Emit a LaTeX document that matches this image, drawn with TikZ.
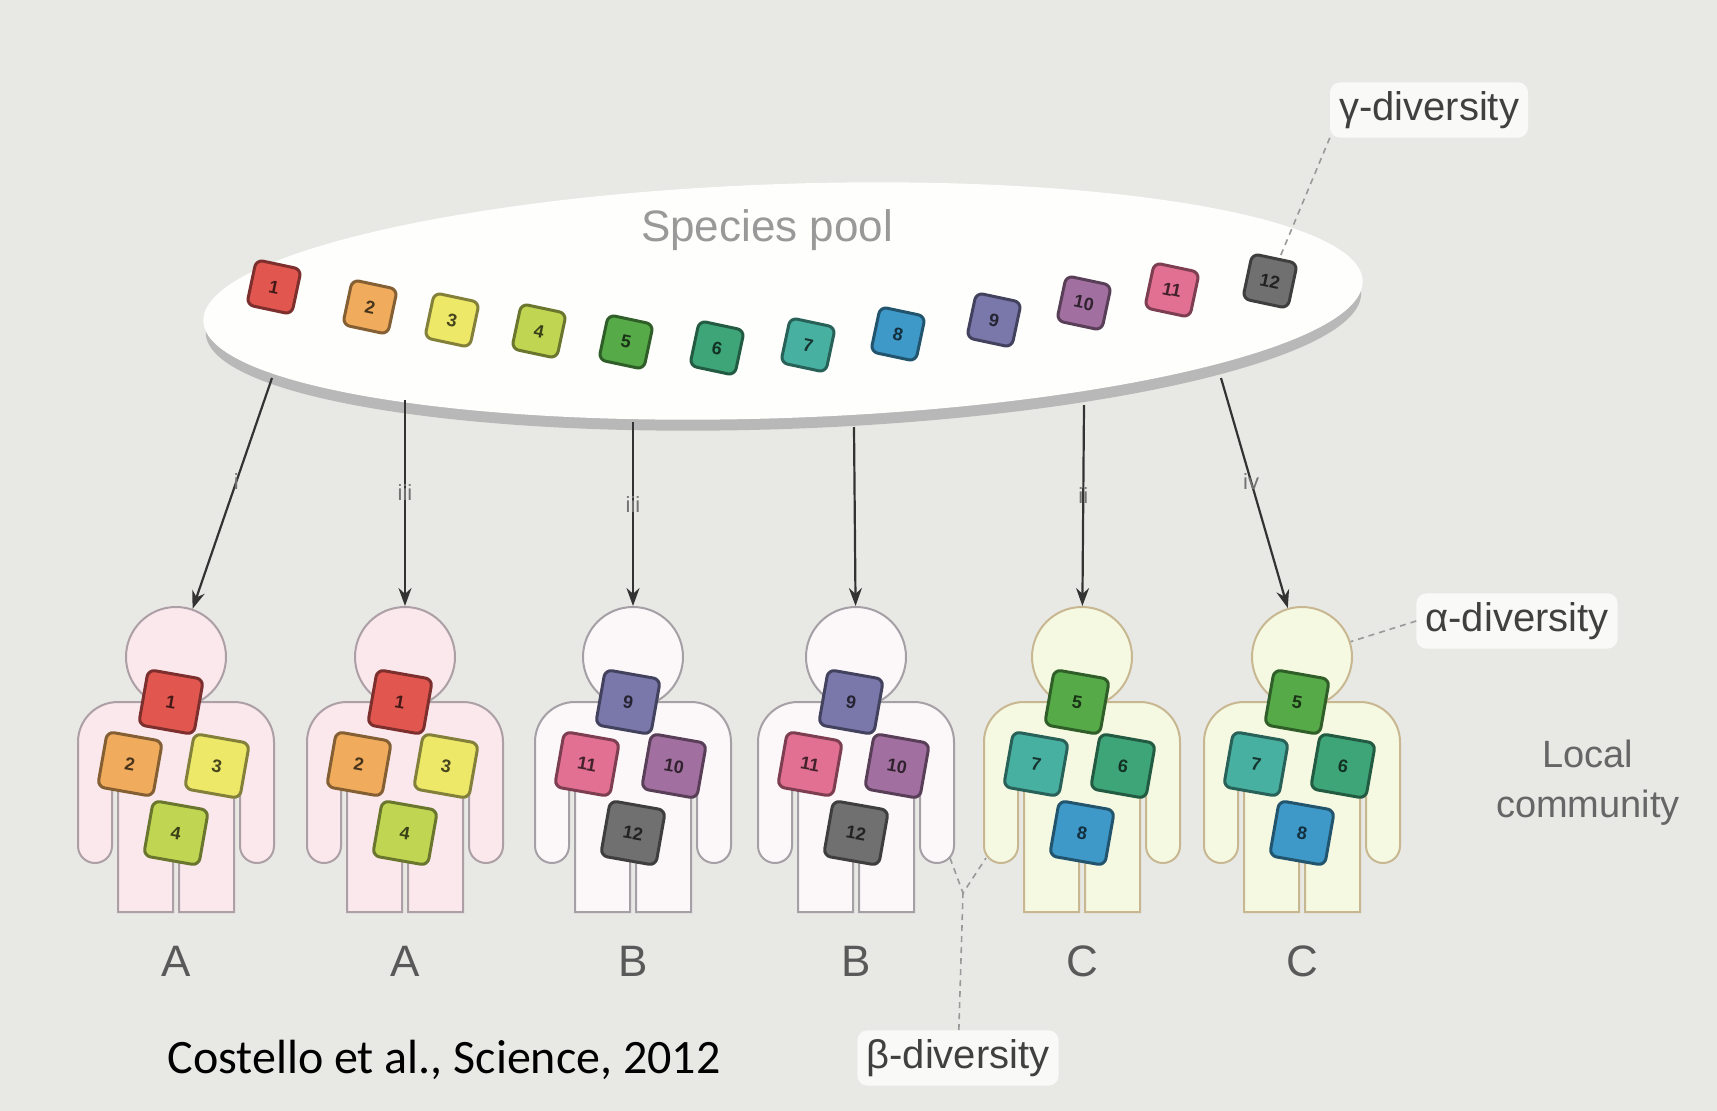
\documentclass[tikz,border=0pt]{standalone}
\usepackage{fontspec}
\setmainfont{Liberation Sans}
\newfontfamily\citefont{Carlito}
\usetikzlibrary{arrows.meta, shapes.geometric}

% Species colours

\definecolor{sp1}{RGB}{226,86,80}
\definecolor{sp2}{RGB}{240,172,92}
\definecolor{sp3}{RGB}{238,232,104}
\definecolor{sp4}{RGB}{192,214,82}
\definecolor{sp5}{RGB}{86,170,72}
\definecolor{sp6}{RGB}{62,165,120}
\definecolor{sp7}{RGB}{72,176,160}
\definecolor{sp8}{RGB}{62,152,200}
\definecolor{sp9}{RGB}{122,120,170}
\definecolor{sp10}{RGB}{162,112,160}
\definecolor{sp11}{RGB}{226,112,146}
\definecolor{sp12}{RGB}{112,112,112}

% Paper and hosts

\definecolor{paper}{RGB}{232,232,229}
\definecolor{hostA}{RGB}{250,232,236}
\definecolor{hostB}{RGB}{252,247,249}
\definecolor{hostC}{RGB}{246,249,226}
\definecolor{edgeA}{RGB}{172,160,166}
\definecolor{edgeB}{RGB}{165,160,165}
\definecolor{edgeC}{RGB}{200,184,146}

\tikzset{
	species/.style = {draw = #1!55!black, fill = #1, line width = 3, rounded corners = 7,
		minimum size = 46, inner sep = 0, text = #1!30!black,
		font = \fontsize{18}{18}\selectfont\bfseries},
	host/.style = {line width = 2},
	head/.style = {circle, line width = 2, minimum size = 100, inner sep = 0},
	seed/.style = {line width = 2.2, draw = black!80, -{Stealth[length = 18, width = 13]}},
	numeral/.style = {font = \fontsize{22}{22}\selectfont, text = black!55, inner sep = 2},
	leader/.style = {line width = 1.6, draw = black!40, dashed, dash pattern = on 6 off 5},
	tag/.style = {fill = white!75!paper, rounded corners = 10, inner sep = 9, text = black!75,
		font = \fontsize{40}{40}\selectfont},
	group/.style = {text = black!65, font = \fontsize{44}{44}\selectfont}
}

\begin{document}
\begin{tikzpicture}[x = 1pt, y = 1pt]

	% Paper

	\fill [paper] (0, 0) rectangle (1717, -1111);
	\useasboundingbox (0, 0) rectangle (1717, -1111);

	% Species pool

	\fill [black!28, rotate around = {2 : (783, -301)}] (783, -313) ellipse (578 and 116);
	\node [ellipse, fill = white!94!paper, minimum width = 1160, minimum height = 234, rotate = 2] (pool) at (783, -301) {};
	\node [text = black!40, font = \fontsize{44}{44}\selectfont] (poolname) at (767, -230) {Species pool};

	\foreach \n/\x/\y in {1/274/287, 2/370/307, 3/452/320, 4/539/331, 5/626/342, 6/717/348,
		7/808/345, 8/898/334, 9/994/320, 10/1084/303, 11/1172/290, 12/1270/281}
		\node [species = sp\n, rotate = -12] (pool\n) at (\x, -\y) {\n};

	% Hosts

	\foreach \i/\cx/\tint/\edge/\a/\b/\c/\d/\grp in {
		1/176/hostA/edgeA/1/2/3/4/A, 2/405/hostA/edgeA/1/2/3/4/A,
		3/633/hostB/edgeB/9/11/10/12/B, 4/856/hostB/edgeB/9/11/10/12/B,
		5/1082/hostC/edgeC/5/7/6/8/C, 6/1302/hostC/edgeC/5/7/6/8/C}
	{
		% Body

		\draw [host, fill = \tint, draw = \edge] ({\cx-98}, -742) arc [start angle = 180, end angle = 90, radius = 40]
			-- ({\cx+58}, -702) arc [start angle = 90, end angle = 0, radius = 40]
			-- ({\cx+98}, -846) arc [start angle = 0, end angle = -180, radius = 17]
			-- ({\cx+64}, -765) -- ({\cx+58}, -765) -- ({\cx+58}, -912) -- ({\cx+3}, -912)
			-- ({\cx+3}, -838) -- ({\cx-3}, -838) -- ({\cx-3}, -912) -- ({\cx-58}, -912)
			-- ({\cx-58}, -765) -- ({\cx-64}, -765) -- ({\cx-64}, -846)
			arc [start angle = 0, end angle = -180, radius = 17] -- cycle;

		% Head

		\node [head, fill = \tint, draw = \edge] (head\i) at (\cx, -657) {};

		% Community

		\node [species = sp\a, rotate = -10, minimum size = 56] (h\i-top) at ({\cx-5}, -702) {\a};
		\node [species = sp\b, rotate = -10, minimum size = 56] (h\i-left) at ({\cx-46}, -764) {\b};
		\node [species = sp\c, rotate = -10, minimum size = 56] (h\i-right) at ({\cx+41}, -766) {\c};
		\node [species = sp\d, rotate = -10, minimum size = 56] (h\i-bottom) at (\cx, -833) {\d};

		% Label

		\node [group] (host\i) at (\cx, -961) {\grp};
	}

	% Assembly

	\foreach \i/\x/\y/\lab in {1/272/378/i, 2/405/400/iii, 3/633/422/iii, 4/854/427/, 5/1084/405/ii, 6/1221/378/iv}
	{
		\coordinate (drop\i) at (\x, -\y);
		\draw [seed] (drop\i) -- node [numeral, pos = 0.45] {\lab} (head\i);
	}

	% Diversity levels

	\node [tag] (gamma) at (1429, -110) {γ-diversity};
	\draw [leader] (gamma.south west) -- (pool12);

	\node [tag] (alpha) at (1517, -621) {α-diversity};
	\draw [leader] (alpha.west) -- (head6);

	\node [tag] (beta) at (958, -1058) {β-diversity};
	\coordinate (fork) at (963, -893);
	\coordinate (forkL) at (950, -858);
	\coordinate (forkR) at (986, -858);
	\draw [leader] (beta) -- (fork);
	\draw [leader] (forkL) -- (fork) -- (forkR);

	\node [text = black!60, align = center, font = \fontsize{38}{50}\selectfont] (local) at (1588, -783) {Local\\community};

	% Source

	\node [anchor = base west, font = \citefont\fontsize{48}{48}\selectfont] (cite) at (164, -1073) {Costello et al., Science, 2012};

\end{tikzpicture}
\end{document}
